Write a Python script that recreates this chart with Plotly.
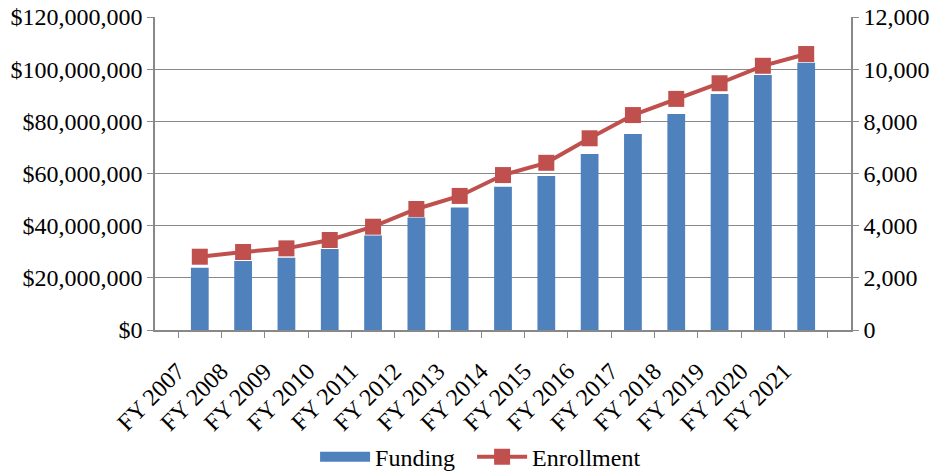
import plotly.graph_objects as go

years = ["FY 2007", "FY 2008", "FY 2009", "FY 2010", "FY 2011", "FY 2012", "FY 2013",
         "FY 2014", "FY 2015", "FY 2016", "FY 2017", "FY 2018", "FY 2019", "FY 2020", "FY 2021"]
funding = [23.9e6, 26.5e6, 27.7e6, 31.1e6, 36.2e6, 43.1e6, 47.0e6, 54.9e6,
           59.0e6, 67.5e6, 75.1e6, 82.8e6, 90.5e6, 97.8e6, 102.5e6]
enrollment = [2810, 2990, 3130, 3450, 3960, 4640, 5140, 5940,
              6410, 7350, 8240, 8860, 9460, 10130, 10580]

left_ticks = [0, 20e6, 40e6, 60e6, 80e6, 100e6, 120e6]
left_labels = ["$0", "$20,000,000", "$40,000,000", "$60,000,000", "$80,000,000",
               "$100,000,000", "$120,000,000"]
right_ticks = [0, 2000, 4000, 6000, 8000, 10000, 12000]
right_labels = ["0", "2,000", "4,000", "6,000", "8,000", "10,000", "12,000"]

FONT = "Liberation Serif, Times New Roman, serif"
FS = 24
GRID = "#888888"
BLUE = "#4F81BD"
RED = "#C0504D"

fig = go.Figure()
fig.add_trace(go.Bar(x=years, y=funding, name="Funding", marker=dict(color=BLUE, line=dict(width=0)),
                     yaxis="y", showlegend=False, legendgroup="f"))
# legend-only entry so the Funding key is drawn as a wide rectangle
fig.add_trace(go.Scatter(x=[None], y=[None], name="Funding\u00a0\u00a0", mode="lines",
                         line=dict(color=BLUE, width=12), legendgroup="f", showlegend=True))
fig.add_trace(go.Scatter(x=years, y=enrollment, name="Enrollment", mode="lines+markers",
                         line=dict(color=RED, width=4),
                         marker=dict(symbol="square", size=16, color=RED),
                         yaxis="y2"))

fig.update_layout(
    width=948, height=474,
    margin=dict(l=155, r=97, t=17, b=144, autoexpand=False),
    plot_bgcolor="white", paper_bgcolor="white",
    font=dict(family=FONT, size=FS, color="black"),
    bargap=0.59,
    showlegend=True,
    legend=dict(orientation="h", x=0.23, xanchor="left", y=-0.406, yanchor="middle",
                font=dict(family=FONT, size=FS), itemwidth=50,
                traceorder="normal"),
    xaxis=dict(type="category", tickangle=-45, showline=True, linecolor=GRID, linewidth=1.5,
               ticks="outside", tickson="boundaries", ticklen=6, tickcolor=GRID,
               ticklabelshift=-22, ticklabelstandoff=16,
               showgrid=False, automargin=False, tickfont=dict(family=FONT, size=FS)),
    yaxis=dict(range=[0, 120e6], tickvals=left_ticks, ticktext=left_labels,
               showline=True, linecolor=GRID, linewidth=1.5, ticks="outside", ticklen=6,
               tickcolor=GRID, showgrid=True, gridcolor=GRID, gridwidth=1.2,
               ticklabeloverflow="allow",
               zeroline=False, automargin=False, tickfont=dict(family=FONT, size=FS)),
    yaxis2=dict(range=[0, 12000], tickvals=right_ticks, ticktext=right_labels, overlaying="y",
                side="right", showline=True, linecolor=GRID, linewidth=1.5, ticks="outside",
                ticklen=6, tickcolor=GRID, showgrid=False, zeroline=False, automargin=False,
                ticklabeloverflow="allow",
                tickfont=dict(family=FONT, size=FS)),
)

fig.write_html("out.html", config={"displayModeBar": False},
               post_script="document.body.style.margin='0px';")
